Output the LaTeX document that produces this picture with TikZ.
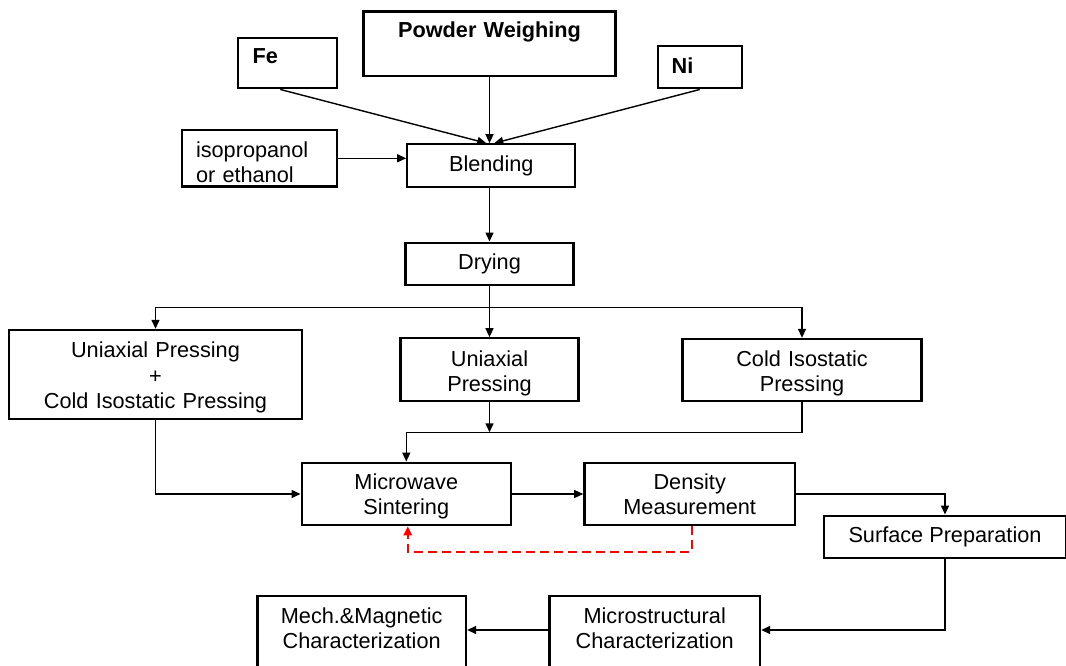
\documentclass[tikz,border=0pt]{standalone}
\usepackage{fontspec}
\setmainfont{Liberation Sans}
\usetikzlibrary{arrows.meta}
\begin{document}
\begin{tikzpicture}[x=1pt,y=-1pt,
  box/.style={draw, line width=2.3pt, inner sep=0pt, align=center,
    font=\fontsize{21.7}{25.5}\selectfont},
  boldbox/.style={box, font=\fontsize{21.7}{25.5}\selectfont\bfseries},
  conn/.style={line width=1.4pt, -{Triangle[length=9pt,width=8pt]}},
  redconn/.style={red, line width=2pt, dash pattern=on 9pt off 5pt,
    -{Triangle[length=9pt,width=8.5pt]}}]
\useasboundingbox (0,0) rectangle (1066,666);
\fill[white] (0,0) rectangle (1066,666);

% top row
\node[boldbox, text width=252pt, text height=25.6pt, text depth=38.7pt] (pw) at (489.5,43.8) {Powder Weighing};
\node[boldbox, align=left, inner xsep=14.7pt, text width=69.3pt, text height=26.3pt, text depth=24.3pt] (fe) at (287.3,63) {Fe};
\node[boldbox, align=left, inner xsep=14pt, text width=56pt, text height=27pt, text depth=15.3pt] (ni) at (699.7,67.2) {Ni};
\node[box, align=left, inner xsep=13.7pt, text width=127pt, text height=27.3pt, text depth=29.4pt] (iso) at (259.5,158.3) {isopropanol\\or ethanol};
\node[box, minimum width=168pt, minimum height=42.4pt] (blend) at (491.3,165.5) {Blending};
\node[box, minimum width=168pt, minimum height=42pt] (dry) at (489.5,263.7) {Drying};

% pressing row
\node[box, text width=293pt, text height=28pt, text depth=60.7pt] (upcip) at (155.5,374.3) {Uniaxial Pressing\\+\\Cold Isostatic Pressing};
\node[box, text width=178pt, text height=28pt, text depth=34.4pt] (up) at (489.5,369.5) {Uniaxial\\Pressing};
\node[box, text width=239pt, text height=27pt, text depth=35pt] (cip) at (802,370) {Cold Isostatic\\Pressing};

% sintering row
\node[box, text width=209.3pt, text height=26.6pt, text depth=36pt] (mw) at (406.3,494) {Microwave\\Sintering};
\node[box, text width=210.7pt, text height=26.6pt, text depth=36pt] (dm) at (689.7,494) {Density\\Measurement};
\node[box, minimum width=242pt, minimum height=42pt] (sp) at (945,536.7) {Surface Preparation};

% bottom row
\node[box, text width=210.7pt, text height=27pt, text depth=49pt] (micro) at (654.7,634) {Microstructural\\Characterization};
\node[box, text width=208.6pt, text height=27pt, text depth=49pt] (mech) at (361.7,634) {Mech.\&Magnetic\\Characterization};

% helper coordinates
\coordinate (split) at (0,307.3);
\coordinate (j) at (406.3,432.3);
\coordinate (rb) at (0,551.7);

% connectors
\draw[conn] ([xshift=-7pt]fe.south) -- ([xshift=-5pt]blend.north);
\draw[conn] (pw.south) -- (pw.south |- blend.north);
\draw[conn] (ni.south) -- ([xshift=3pt]blend.north);
\draw[conn] (iso.east) -- (iso.east -| blend.west);
\draw[conn] (dry.north |- blend.south) -- (dry.north);
\draw[conn] (dry.south) -- (up.north);
\draw[conn] (dry.south |- split) -| (upcip.north);
\draw[conn] (dry.south |- split) -| (cip.north);
\draw[conn] (up.south) -- (up.south |- j);
\draw[conn] (cip.south) |- (j) -- (mw.north);
\draw[conn] (upcip.south) |- (mw.west);
\draw[conn] (mw.east) -- (dm.west);
\draw[conn] (dm.east) -| (sp.north);
\draw[conn] (sp.south) |- ([yshift=4pt]micro.east);
\draw[conn] ([yshift=4pt]micro.west) -- ([yshift=4pt]mech.east);
\draw[redconn] ([xshift=2pt]dm.south) -- ([xshift=2pt]dm.south |- rb) -| ([xshift=1.5pt]mw.south);
\end{tikzpicture}
\end{document}
